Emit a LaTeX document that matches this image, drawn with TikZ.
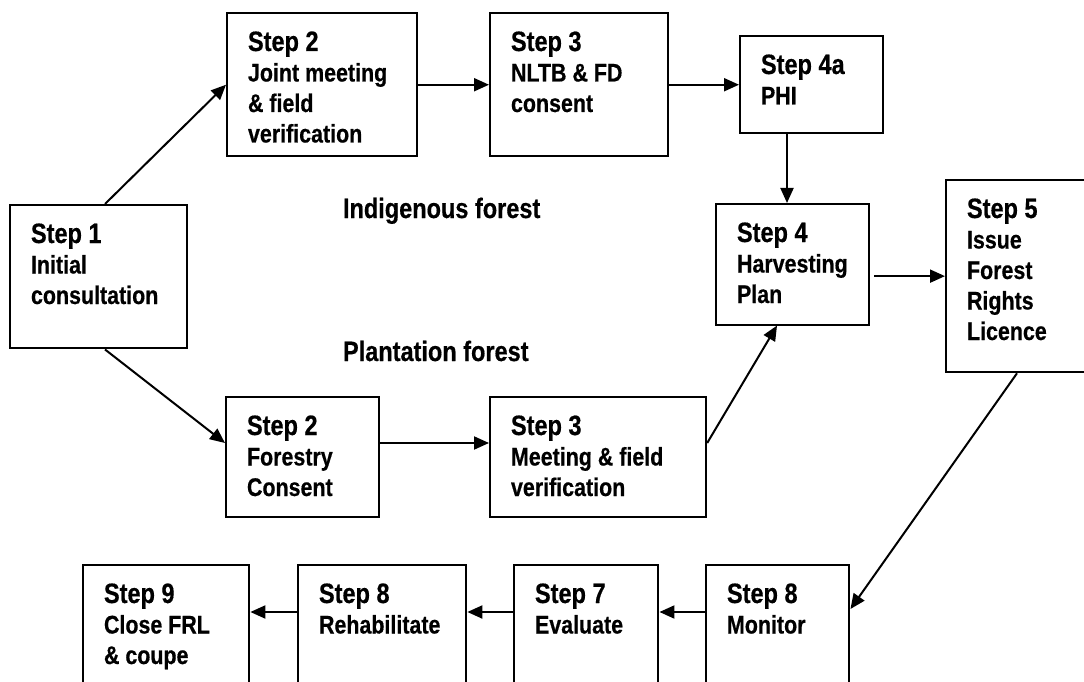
\documentclass[tikz,border=0pt]{standalone}
\usepackage{fontspec}
\setmainfont{Liberation Sans}[FakeStretch=0.84, BoldFeatures={FakeBold=0.5}]
\usetikzlibrary{arrows.meta,calc}
\newcommand{\stepno}[1]{{\fontsize{28bp}{30.5bp}\selectfont #1}}
\begin{document}
\begin{tikzpicture}[x=1bp, y=-1bp, line width=2bp,
        stepbox/.style 2 args={draw, anchor=north west, inner xsep=21bp, inner ysep=0pt,
            text width=#1-42bp, text height=38bp, text depth=#2-38bp, align=left,
            font=\bfseries\fontsize{25.5bp}{30.5bp}\selectfont,
            execute at begin node={\spaceskip=0pt\xspaceskip=0pt\relax}},
        branch/.style={anchor=base west, inner sep=0pt,
            font=\bfseries\fontsize{28bp}{30bp}\selectfont},
        flow/.style={-{Triangle[length=15bp, width=13bp]}}]
            \useasboundingbox (0,0) rectangle (1084,682);
            \clip (0,0) rectangle (1084,682);

            \node[stepbox={178}{144}] (s1) at (9,204) {\stepno{Step 1}\\Initial\\consultation};

            \node[stepbox={191}{144}] (s2ind) at (226,12) {\stepno{Step 2}\\Joint meeting\\\& field\\verification};
            \node[stepbox={179}{144}] (s3ind) at (489,12) {\stepno{Step 3}\\NLTB \& FD\\consent};
            \node[stepbox={144}{97}] (s4a) at (739,35) {\stepno{Step 4a}\\PHI};

            \node[stepbox={154}{120}] (s2pl) at (225,396) {\stepno{Step 2}\\Forestry\\Consent};
            \node[stepbox={217}{120}] (s3pl) at (489,396) {\stepno{Step 3}\\Meeting \& field\\verification};

            \node[stepbox={154}{121}] (s4) at (715,203) {\stepno{Step 4}\\Harvesting\\Plan};
            \node[stepbox={150}{193}] (s5) at (945,179) {\stepno{Step 5}\\Issue\\Forest\\Rights\\Licence};

            \node[stepbox={144}{136}] (s8mon) at (705,564) {\stepno{Step 8}\\Monitor};
            \node[stepbox={145}{136}] (s7) at (513,564) {\stepno{Step 7}\\Evaluate};
            \node[stepbox={169}{136}] (s8reh) at (297,564) {\stepno{Step 8}\\Rehabilitate};
            \node[stepbox={167}{136}] (s9) at (82,564) {\stepno{Step 9}\\Close FRL\\\& coupe};

            \node[branch] (indig) at (342,218) {Indigenous forest};
            \node[branch] (plant) at (342,361) {Plantation forest};

            \draw[flow] ($(s1.north west)+(96,0)$) -- (s2ind.west);
            \draw[flow] (s2ind) -- (s3ind);
            \draw[flow] (s3ind.east) -- (s3ind.east -| s4a.west);
            \draw[flow] ($(s4a.south west)+(48,0)$) -- ($(s4.north west)+(72,0)$);

            \draw[flow] ($(s1.south west)+(96,0)$) -- ($(s2pl.north west)+(0,47)$);
            \draw[flow] ($(s2pl.north east)+(0,47)$) -- ($(s3pl.north west)+(0,47)$);
            \draw[flow] ($(s3pl.north east)+(0,47)$) -- ($(s4.south west)+(62,0)$);

            \draw[flow] ($(s5.west -| s4.east)+(4,0)$) -- (s5.west);
            \draw[flow] ($(s5.south west)+(72,0)$) -- ($(s8mon.north east)+(0,45)$);

            \draw[flow] ($(s8mon.north west)+(0,48)$) -- ($(s7.north east)+(0,48)$);
            \draw[flow] ($(s7.north west)+(0,48)$) -- ($(s8reh.north east)+(0,48)$);
            \draw[flow] ($(s8reh.north west)+(0,48)$) -- ($(s9.north east)+(0,48)$);
        \end{tikzpicture}
\end{document}
